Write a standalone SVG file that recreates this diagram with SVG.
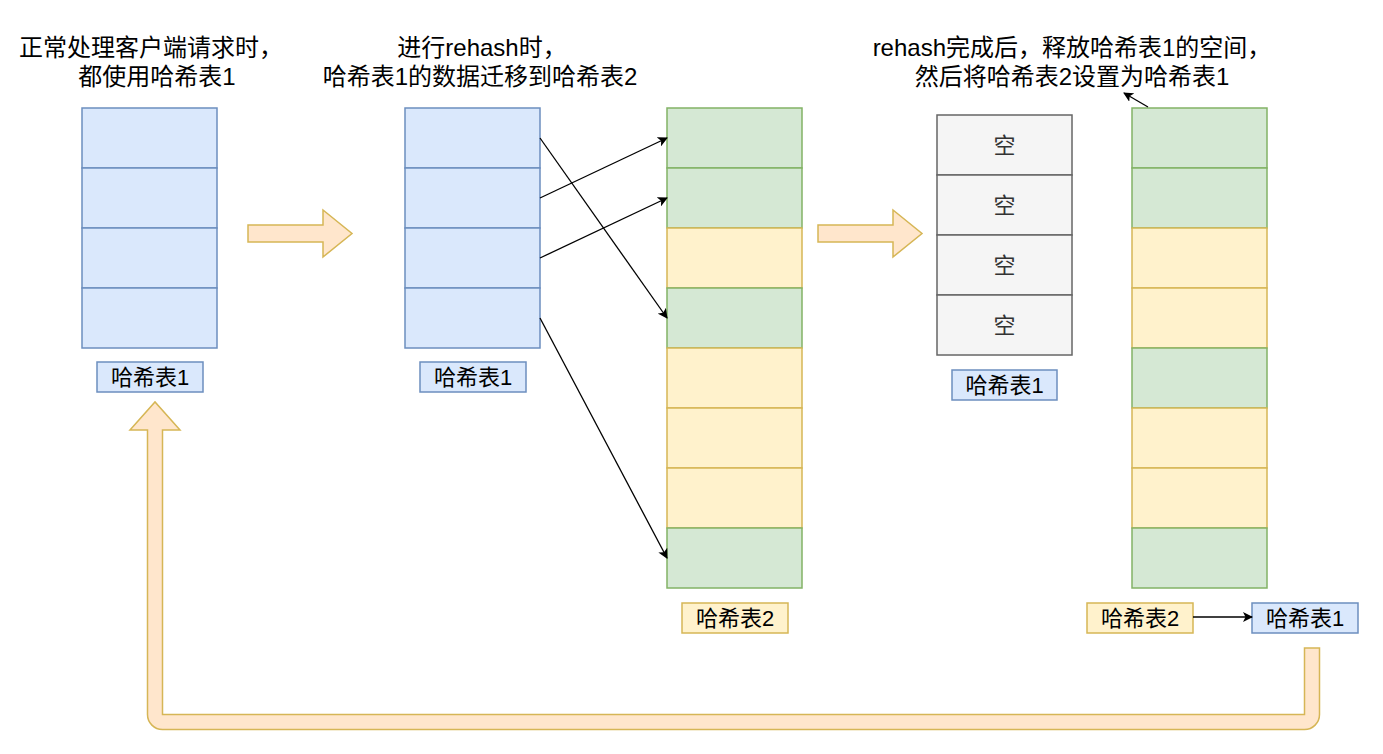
<svg xmlns="http://www.w3.org/2000/svg" width="1383" height="754" viewBox="0 0 1383 754">
<defs>
<style>
text{font-family:"Liberation Sans","Noto Sans CJK SC",sans-serif;font-size:22px;fill:#000;text-anchor:middle;dominant-baseline:central}
.cap text{font-size:24px}
.b{fill:#dae8fc;stroke:#6c8ebf;stroke-width:1.5}
.g{fill:#d5e8d4;stroke:#82b366;stroke-width:1.5}
.y{fill:#fff2cc;stroke:#d6b656;stroke-width:1.5}
.e{fill:#f5f5f5;stroke:#666666;stroke-width:1.5}
.fa{fill:#ffe6cc;stroke:#d6b656;stroke-width:1.5;stroke-linejoin:miter}
.ln{stroke:#000;stroke-width:1.3;fill:none;marker-end:url(#ah)}
.em{fill:#333}
</style>
<marker id="ah" viewBox="0 0 10 10" refX="9" refY="5" markerWidth="10" markerHeight="10" markerUnits="userSpaceOnUse" orient="auto">
<path d="M0,0 L10,5 L0,10 L2.5,5 Z" fill="#000"/>
</marker>
</defs>

<g id="caption1" class="cap">
<text x="151" y="47">正常处理客户端请求时，</text>
<text x="157" y="76">都使用哈希表1</text>
</g>
<g id="caption2" class="cap">
<text x="482" y="47">进行rehash时，</text>
<text x="480" y="76">哈希表1的数据迁移到哈希表2</text>
</g>
<g id="caption3" class="cap">
<text x="1072" y="47">rehash完成后，释放哈希表1的空间，</text>
<text x="1072" y="76">然后将哈希表2设置为哈希表1</text>
</g>

<g id="table1">
<rect class="b" x="82" y="108" width="135" height="60"/>
<rect class="b" x="82" y="168" width="135" height="60"/>
<rect class="b" x="82" y="228" width="135" height="60"/>
<rect class="b" x="82" y="288" width="135" height="60"/>
</g>
<g id="label1">
<rect class="b" x="97" y="362" width="106" height="30"/>
<text x="150" y="377">哈希表1</text>
</g>

<g id="table1b">
<rect class="b" x="405" y="108" width="135" height="60"/>
<rect class="b" x="405" y="168" width="135" height="60"/>
<rect class="b" x="405" y="228" width="135" height="60"/>
<rect class="b" x="405" y="288" width="135" height="60"/>
</g>
<g id="label1b">
<rect class="b" x="420" y="362" width="106" height="30"/>
<text x="473" y="377">哈希表1</text>
</g>

<g id="table2">
<rect class="g" x="667" y="108" width="135" height="60"/>
<rect class="g" x="667" y="168" width="135" height="60"/>
<rect class="y" x="667" y="228" width="135" height="60"/>
<rect class="g" x="667" y="288" width="135" height="60"/>
<rect class="y" x="667" y="348" width="135" height="60"/>
<rect class="y" x="667" y="408" width="135" height="60"/>
<rect class="y" x="667" y="468" width="135" height="60"/>
<rect class="g" x="667" y="528" width="135" height="60"/>
</g>
<g id="label2">
<rect class="y" x="682" y="603" width="106" height="30"/>
<text x="735" y="618">哈希表2</text>
</g>

<g id="tableEmpty">
<rect class="e" x="937" y="115" width="135" height="60"/>
<rect class="e" x="937" y="175" width="135" height="60"/>
<rect class="e" x="937" y="235" width="135" height="60"/>
<rect class="e" x="937" y="295" width="135" height="60"/>
<text class="em" x="1004.5" y="145">空</text>
<text class="em" x="1004.5" y="205">空</text>
<text class="em" x="1004.5" y="265">空</text>
<text class="em" x="1004.5" y="325">空</text>
</g>
<g id="labelEmpty">
<rect class="b" x="952" y="370" width="105" height="30"/>
<text x="1004.5" y="385">哈希表1</text>
</g>

<g id="table2b">
<rect class="g" x="1132" y="108" width="135" height="60"/>
<rect class="g" x="1132" y="168" width="135" height="60"/>
<rect class="y" x="1132" y="228" width="135" height="60"/>
<rect class="y" x="1132" y="288" width="135" height="60"/>
<rect class="g" x="1132" y="348" width="135" height="60"/>
<rect class="y" x="1132" y="408" width="135" height="60"/>
<rect class="y" x="1132" y="468" width="135" height="60"/>
<rect class="g" x="1132" y="528" width="135" height="60"/>
</g>
<g id="label2b">
<rect class="y" x="1087" y="603" width="106" height="30"/>
<text x="1140" y="618">哈希表2</text>
</g>
<g id="label1c">
<rect class="b" x="1252" y="603" width="106" height="30"/>
<text x="1305" y="618">哈希表1</text>
</g>

<g id="connectors">
<polygon class="fa" points="248,225 323,225 323,210 352,233.5 323,257 323,242 248,242"/>
<polygon class="fa" points="818,225 893,225 893,210 922,233.5 893,257 893,242 818,242"/>
<path class="fa" d="M1319.5,648 L1319.5,714.5 A15,15 0 0 1 1304.5,729.5 L162.5,729.5 A15,15 0 0 1 147.5,714.5 L147.5,430 L130,430 L155,402 L180,430 L162.5,430 L162.5,714.5 L1304.5,714.5 L1304.5,648 Z"/>
<line class="ln" x1="540" y1="138" x2="667" y2="318"/>
<line class="ln" x1="540" y1="198" x2="667" y2="138"/>
<line class="ln" x1="540" y1="258" x2="667" y2="198"/>
<line class="ln" x1="540" y1="318" x2="667" y2="558"/>
<line class="ln" x1="1148" y1="107" x2="1124" y2="93"/>
<line class="ln" x1="1193" y1="617" x2="1252" y2="617"/>
</g>
</svg>
